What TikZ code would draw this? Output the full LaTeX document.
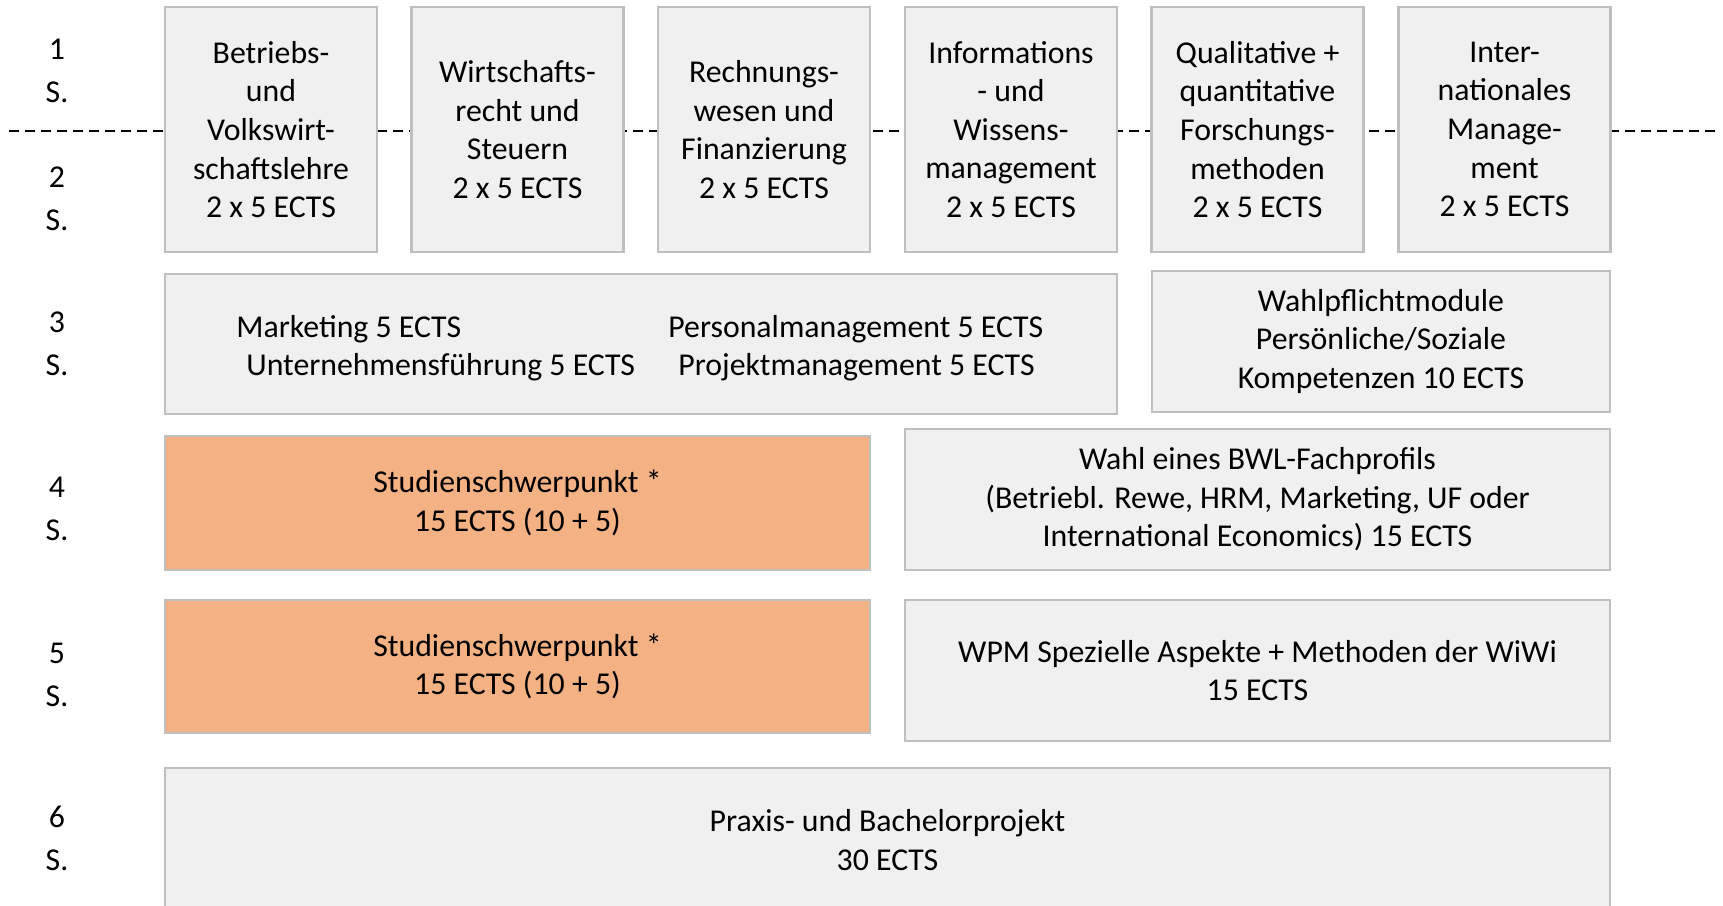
\documentclass[tikz,border=0pt]{standalone}
\usepackage{fontspec}
\setmainfont{Carlito}
\definecolor{modulgrau}{HTML}{F0F0F0}
\definecolor{randgrau}{HTML}{BFBFBF}
\definecolor{orangehell}{HTML}{F4B183}
\begin{document}
\begin{tikzpicture}[x=0.5pt,y=-0.5pt,
  font=\fontsize{15.9}{19.3}\selectfont,
  modul/.style={rectangle,draw=randgrau,line width=1.2pt,fill=modulgrau,align=center,inner sep=0pt},
  schwerpunkt/.style={modul,fill=orangehell},
  sem/.style={align=center,font=\fontsize{15.9}{21.5}\selectfont},
  zeile/.style={anchor=west,inner sep=0pt}]
\useasboundingbox (0,0) rectangle (1723,905);
\clip (0,0) rectangle (1723,905);
%
\coordinate (trennL) at (9,131);
\coordinate (trennR) at (1720,131);
\draw[dashed,dash pattern=on 5pt off 3pt,line width=0.8pt] (trennL) -- (trennR);
%
\node at (57,70.5) [sem] (s1) {1\\S.};
\node at (57,198.5) [sem] (s2) {2\\S.};
\node at (57,343.5) [sem] (s3) {3\\S.};
\node at (57,508.5) [sem] (s4) {4\\S.};
\node at (57,675) [sem] (s5) {5\\S.};
\node at (57,838.5) [sem] (s6) {6\\S.};
%
\node at (271,129.5) [modul,minimum width=106pt,minimum height=122.5pt] (bwl) {Betriebs-\\und\\Volkswirt-\\schaftslehre\\2 x 5 ECTS};
\node at (517.5,129.5) [modul,minimum width=106pt,minimum height=122.5pt] (recht) {Wirtschafts-\\recht und\\Steuern\\2 x 5 ECTS};
\node at (764,129.5) [modul,minimum width=106pt,minimum height=122.5pt] (rewe) {Rechnungs-\\wesen und\\Finanzierung\\2 x 5 ECTS};
\node at (1011,129.5) [modul,minimum width=106pt,minimum height=122.5pt] (info) {Informations\\- und\\Wissens-\\management\\2 x 5 ECTS};
\node at (1257.5,129.5) [modul,minimum width=106pt,minimum height=122.5pt] (forsch) {Qualitative +\\quantitative\\Forschungs-\\methoden\\2 x 5 ECTS};
\node at (1504.5,129.5) [modul,minimum width=106pt,minimum height=122.5pt] (intm) {Inter-\\nationales\\Manage-\\ment\\2 x 5 ECTS};
%
\node at (641,344) [modul,minimum width=476pt,minimum height=70pt] (sem3) {};
\node at (236,329) [zeile] (mkt) {Marketing 5 ECTS};
\node at (246,367) [zeile] (uf) {Unternehmensführung 5 ECTS};
\node at (668,329) [zeile] (pm) {Personalmanagement 5 ECTS};
\node at (678,367) [zeile] (prm) {Projektmanagement 5 ECTS};
\node at (1381,341.5) [modul,minimum width=229pt,minimum height=70.5pt] (wpm3) {Wahlpflichtmodule\\Persönliche/Soziale\\Kompetenzen 10 ECTS};
%
\node at (517.5,503) [schwerpunkt,minimum width=352.5pt,minimum height=67pt] (ssp4) {Studienschwerpunkt *\\15 ECTS (10 + 5)};
\node at (1257.5,499.5) [modul,minimum width=352.5pt,minimum height=70.5pt] (profil) {Wahl eines BWL-Fachprofils\\(Betriebl. Rewe, HRM, Marketing, UF oder\\International Economics) 15 ECTS};
%
\node at (517.5,666.5) [schwerpunkt,minimum width=352.5pt,minimum height=66.5pt] (ssp5) {Studienschwerpunkt *\\15 ECTS (10 + 5)};
\node at (1257.5,670.5) [modul,minimum width=352.5pt,minimum height=70.5pt] (wpm5) {WPM Spezielle Aspekte + Methoden der WiWi\\15 ECTS};
%
\node at (887.5,840) [modul,minimum width=722.5pt,minimum height=72pt] (praxis) {Praxis- und Bachelorprojekt\\30 ECTS};
\end{tikzpicture}
\end{document}
